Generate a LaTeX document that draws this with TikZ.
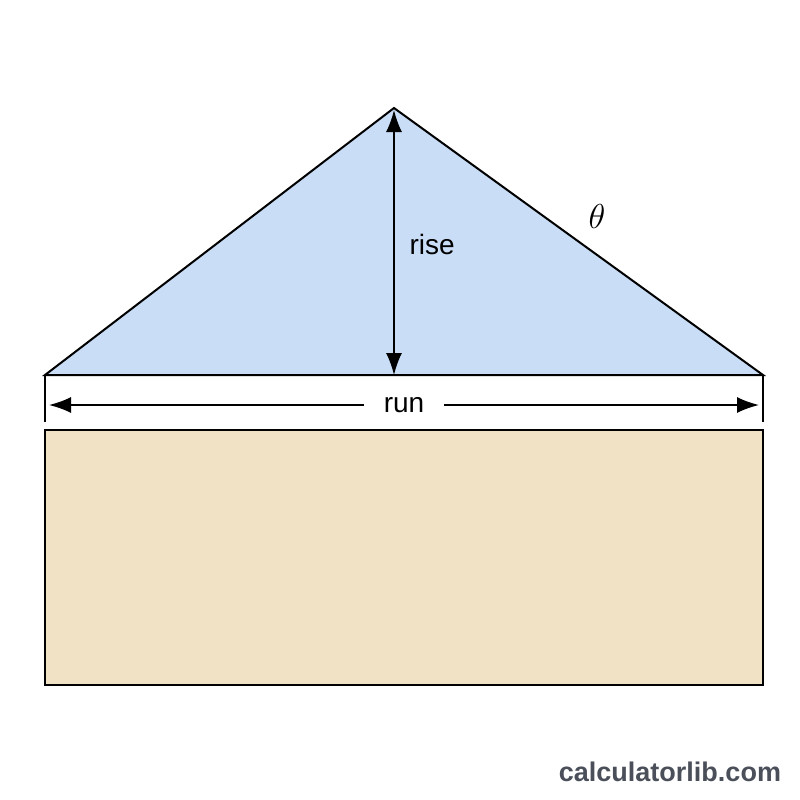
\documentclass[tikz,border=0pt]{standalone}
\usepackage{fontspec}
\setmainfont{Liberation Sans}
\usetikzlibrary{arrows.meta}

\definecolor{roofblue}{RGB}{201,222,246}
\definecolor{wallbeige}{RGB}{241,226,198}
\definecolor{markgrey}{RGB}{74,79,89}

\begin{document}
\begin{tikzpicture}[x=0.5pt, y=-0.5pt, line width=1pt,
  tip/.tip={Latex[length=11pt,width=8pt]},
  dim/.style={tip-tip, line width=0.8pt},
  lbl/.style={font=\fontsize{14}{17}\selectfont}]
\useasboundingbox (0,0) rectangle (800,800);

% Corners of the roof first, everything else hangs off them.
\coordinate (left)  at (45,375);
\coordinate (apex)  at (394,108);
\coordinate (right) at (763,375);
\coordinate (foot)  at (apex |- left);

% The roof triangle and the wall block underneath.
\filldraw[fill=roofblue] (left) -- (apex) -- (right) -- cycle;
\filldraw[fill=wallbeige] (45,430) rectangle (763,685);

% Extension ticks at both ends of the run.
\draw
  (left) -- (45,422) coordinate (lefttick)
  (right) -- (763,422) coordinate (righttick)
;

% Rise and run arrows.
\draw[dim] (foot) -- ([yshift=-1pt]apex);
\node[lbl, anchor=west] (rise) at (402,244) {rise};
\draw[dim] ([xshift=2pt]lefttick |- 0,405) -- ([xshift=-2pt]righttick |- 0,405)
  node[lbl, midway, fill=white, inner xsep=10pt] (run) {run};

% Angle label beside the slope.
\node[font=\fontsize{18}{21}\selectfont] (theta) at (597,216) {$\theta$};

% Watermark.
\node[anchor=east, inner sep=0pt, text=markgrey, font=\fontsize{13.5}{16}\selectfont\bfseries]
  (mark) at (782,772) {calculatorlib.com};
\end{tikzpicture}
\end{document}
